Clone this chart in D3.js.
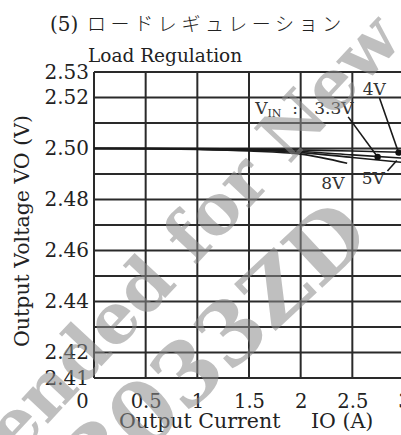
<!DOCTYPE html>
<html>
<head>
<meta charset="utf-8">
<script src="https://cdn.jsdelivr.net/npm/d3@7"></script>
<style>
  body { margin: 0; background: #fff; }
  svg { display: block; }
</style>
</head>
<body>
<div class="chart"></div>
<script>
// load regulation data
const currentA = [0, 0.5, 1, 1.5, 2, 2.5, 3]
const current8 = [0, 0.5, 1, 1.5, 2, 2.45]
const vin33 = [2.5000, 2.5000, 2.4998, 2.4995, 2.4988, 2.4975, 2.4962]
const vin4 = [2.5001, 2.5001, 2.5000, 2.4998, 2.4994, 2.4990, 2.4985]
const vin5 = [2.5000, 2.4999, 2.4997, 2.4993, 2.4984, 2.4965, 2.4945]
const vin8 = [2.5000, 2.4999, 2.4996, 2.4990, 2.4978, 2.4942]

const xTicks = [0, 0.5, 1, 1.5, 2, 2.5, 3]
const xTickLabels = ["0", "0.5", "1", "1.5", "2", "2.5", "3"]
const yTicks = [2.53, 2.52, 2.50, 2.48, 2.46, 2.44, 2.42, 2.41]
const yGrid = [2.41, 2.42, 2.43, 2.44, 2.45, 2.46, 2.47, 2.48, 2.49, 2.50, 2.51, 2.52, 2.53]

const width = 401
const height = 435
const serif = "'DejaVu Serif', serif"

const svg = d3.select(".chart").append("svg")
    .attr("width", width)
    .attr("height", height)

const xScale = d3.scaleLinear().domain([0, 3]).range([94, 404])
const yScale = d3.scaleLinear().domain([2.41, 2.53]).range([378, 72])

// titles
const title = svg.append("text")
    .attr("x", 50)
    .attr("y", 31)
    .attr("fill", "#222")
title.append("tspan")
    .attr("font-family", serif)
    .attr("font-size", 20)
    .text("(5)")
title.append("tspan")
    .attr("x", 87)
    .attr("font-family", "'Noto Sans CJK JP', sans-serif")
    .attr("font-weight", 300)
    .attr("font-size", 19)
    .attr("letter-spacing", 4.6)
    .text("ロードレギュレーション")

svg.append("text")
    .attr("x", 88)
    .attr("y", 62)
    .attr("font-family", serif)
    .attr("font-size", 18.5)
    .attr("fill", "#222")
    .text("Load Regulation")

// grid
svg.append("g").selectAll("line")
    .data(yGrid)
    .enter().append("line")
    .attr("x1", xScale(0)).attr("x2", xScale(3))
    .attr("y1", d => yScale(d)).attr("y2", d => yScale(d))
    .attr("stroke", "#2a2a2a")
    .attr("stroke-width", 2)

svg.append("g").selectAll("line")
    .data(xTicks)
    .enter().append("line")
    .attr("x1", d => xScale(d)).attr("x2", d => xScale(d))
    .attr("y1", yScale(2.53)).attr("y2", yScale(2.41))
    .attr("stroke", "#2a2a2a")
    .attr("stroke-width", 2)

// axes (labels only, the grid does the lines)
const yAxis = svg.append("g")
    .attr("transform", "translate(" + xScale(0) + ",0)")
    .call(d3.axisLeft(yScale).tickValues(yTicks).tickSize(0).tickPadding(5).tickFormat(d3.format(".2f")))
yAxis.select(".domain").remove()
yAxis.selectAll("text")
    .attr("font-family", serif)
    .attr("font-size", 20)
    .attr("fill", "#222")

const xAxis = svg.append("g")
    .attr("transform", "translate(0," + yScale(2.41) + ")")
    .call(d3.axisBottom(xScale).tickValues(xTicks).tickSize(0).tickPadding(16)
        .tickFormat((d, i) => xTickLabels[i]))
xAxis.select(".domain").remove()
xAxis.selectAll("text")
    .attr("font-family", serif)
    .attr("font-size", 19.5)
    .attr("fill", "#222")
xAxis.selectAll("text").filter(d => d === 0).attr("dx", -12)

const xTitle = svg.append("g")
    .attr("font-family", serif)
    .attr("font-size", 20.5)
    .attr("fill", "#222")
xTitle.append("text").attr("x", 119).attr("y", 428).text("Output Current")
xTitle.append("text").attr("x", 311).attr("y", 428).text("IO (A)")

svg.append("text")
    .attr("transform", "translate(29,231) rotate(-90)")
    .attr("text-anchor", "middle")
    .attr("font-family", serif)
    .attr("font-size", 20.5)
    .attr("fill", "#222")
    .text("Output Voltage VO (V)")

// curves
const line = d3.line()
    .x(d => xScale(d[0]))
    .y(d => yScale(d[1]))
    .curve(d3.curveMonotoneX)

const series = [
    { x: currentA, y: vin4 },
    { x: currentA, y: vin33 },
    { x: currentA, y: vin5 },
    { x: current8, y: vin8 }
]

svg.append("g").selectAll("path")
    .data(series)
    .enter().append("path")
    .attr("d", s => line(s.x.map((v, i) => [v, s.y[i]])))
    .attr("fill", "none")
    .attr("stroke", "#1a1a1a")
    .attr("stroke-width", 1.6)

// annotations
const note = svg.append("g")
    .attr("font-family", serif)
    .attr("fill", "#333")
    .attr("font-size", 17)

const vinLabel = note.append("text")
    .attr("x", xScale(1.56))
    .attr("y", yScale(2.5135))
vinLabel.append("tspan").text("V")
vinLabel.append("tspan").attr("font-size", 11).attr("dy", 3).text("IN")
vinLabel.append("tspan").attr("dy", -3).attr("xml:space", "preserve").text("  :   3.3V")

note.append("text").attr("x", xScale(2.6)).attr("y", yScale(2.521)).text("4V")
note.append("text").attr("x", xScale(2.2)).attr("y", yScale(2.4841)).text("8V")
note.append("text").attr("x", xScale(2.59)).attr("y", yScale(2.4861)).text("5V")

const arrows = [
    [[2.46, 2.5124], [2.745, 2.4967]],
    [[2.763, 2.5198], [2.947, 2.4984]],
    [[2.84, 2.4912], [2.93, 2.4953]]
]
svg.append("g").selectAll("line")
    .data(arrows)
    .enter().append("line")
    .attr("x1", d => xScale(d[0][0])).attr("y1", d => yScale(d[0][1]))
    .attr("x2", d => xScale(d[1][0])).attr("y2", d => yScale(d[1][1]))
    .attr("stroke", "#1a1a1a")
    .attr("stroke-width", 1.6)
svg.append("g").selectAll("circle")
    .data(arrows.slice(0, 2))
    .enter().append("circle")
    .attr("cx", d => xScale(d[1][0])).attr("cy", d => yScale(d[1][1]))
    .attr("r", 3.2)
    .attr("fill", "#111")

// watermark over everything
const wm = svg.append("g")
    .attr("font-family", "'DejaVu Serif', serif")
    .attr("font-weight", "bold")
    .attr("fill", "#8c8c8c")
    .attr("opacity", 0.55)
    .attr("text-anchor", "middle")
wm.append("text")
    .attr("transform", "translate(210,250) rotate(-47)")
    .attr("font-size", 70)
    .text("ended for New")
wm.append("text")
    .attr("transform", "translate(236,368) rotate(-43)")
    .attr("font-size", 86)
    .text("3033ZD")
</script>
</body>
</html>
